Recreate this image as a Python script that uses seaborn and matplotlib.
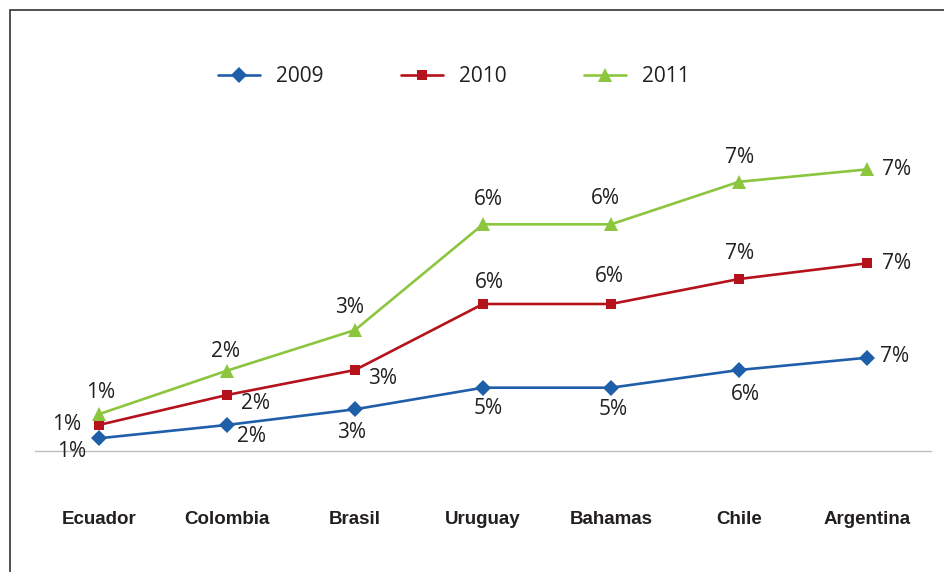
import numpy as np
import pandas as pd
import seaborn as sns
import matplotlib
matplotlib.use("Agg")
import matplotlib.pyplot as plt
from matplotlib.patches import Rectangle

# ---------------- data ----------------
countries = ["Ecuador", "Colombia", "Brasil", "Uruguay", "Bahamas", "Chile", "Argentina"]
years = ["2009", "2010", "2011"]
v2009 = [0.94, 1.93, 3.09, 4.69, 4.69, 6.00, 6.91]
v2010 = [0.99, 2.22, 2.91, 6.20, 6.20, 6.74, 6.99]
v2011 = [0.80, 1.80, 2.96, 5.90, 5.90, 7.20, 6.96]

# ---------------- style ----------------
colors = ["#1F5FAA", "#B5121B", "#8CC63F"]
markers = ["D", "s", "^"]
marker_sizes = [8.5, 7.5, 10]
# data-label offsets in pixels (dx right, dy down)
label_offsets = [
    [(-27, 13), (24, 12), (-3, 23), (5, 21), (2, 22), (6, 25), (28, -1)],
    [(-32, 0), (28, 9), (28, 9), (6, -21), (-2, -27), (1, -26), (30, 0)],
    [(2, -22), (-1, -19), (-5, -23), (5, -25), (-6, -26), (1, -24), (30, 0)],
]

sns.set_style("white")
plt.rcParams["font.family"] = ["Open Sans", "DejaVu Sans"]

df = pd.DataFrame({"country": countries, "2009": v2009, "2010": v2010, "2011": v2011})
cum = df[years].cumsum(axis=1)  # stacked line chart

fig = plt.figure(figsize=(9.44, 5.72), dpi=100)
ax = fig.add_axes([35 / 944, 121 / 572, 896 / 944, 337.5 / 572])

for k, yr in enumerate(years):
    sns.lineplot(x=df["country"], y=cum[yr], ax=ax, color=colors[k], marker=markers[k],
                 markersize=marker_sizes[k], markeredgewidth=0, linewidth=1.9,
                 label=yr, sort=False)
    vals = df[yr].tolist()
    for i, (c, v) in enumerate(zip(countries, vals)):
        dx, dy = label_offsets[k][i]
        ax.annotate(f"{round(v)}%", (i, cum[yr].iloc[i]), xytext=(dx, -dy),
                    textcoords="offset pixels", ha="center", va="center",
                    fontsize=15, color="#231F20")

ax.set_xlim(-0.5, len(countries) - 0.5)
ax.set_ylim(0, 25)
ax.set_xlabel("")
ax.set_ylabel("")
ax.set_yticks([])
for s in ["top", "right", "left"]:
    ax.spines[s].set_visible(False)
ax.spines["bottom"].set_color("#BFBFBF")
ax.spines["bottom"].set_linewidth(1.0)
ax.tick_params(axis="x", length=0, pad=43)
for lab in ax.get_xticklabels():
    lab.set_fontfamily(["Liberation Sans", "DejaVu Sans"])
    lab.set_fontweight("bold")
    lab.set_fontsize(13.5)
    lab.set_color("#231F20")

handles, labels = ax.get_legend_handles_labels()
ax.get_legend().remove()
leg = fig.legend(handles, labels, loc="center", bbox_to_anchor=(454 / 944, 1 - 77 / 572),
                 ncol=3, frameon=False, fontsize=15, handlelength=2.0, handletextpad=0.8,
                 columnspacing=3.7)
for t in leg.get_texts():
    t.set_color("#231F20")

# outer frame (only left and top visible in the crop)
fig.patches.append(Rectangle((9.5 / 944, -0.2), 2, 1.2 - 10 / 572, transform=fig.transFigure,
                             fill=False, edgecolor="#333333", linewidth=1.2))

fig.savefig("out.png", dpi=100)
